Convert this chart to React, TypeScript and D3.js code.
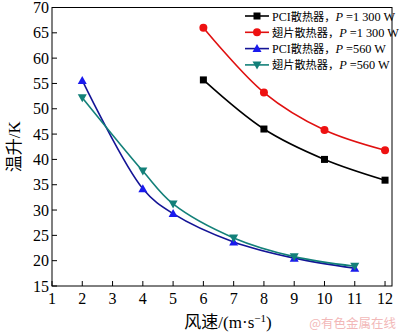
import React from "react";
import * as d3 from "d3";

const xTicks = [1, 2, 3, 4, 5, 6, 7, 8, 9, 10, 11, 12];
const yTicks = [15, 20, 25, 30, 35, 40, 45, 50, 55, 60, 65, 70];

const pciHighX = [6, 8, 10, 12];
const pciHighY = [55.7, 46.0, 40.0, 35.9];
const finHighX = [6, 8, 10, 12];
const finHighY = [66.0, 53.2, 45.8, 41.8];
const pciLowX = [2, 4, 5, 7, 9, 11];
const pciLowY = [55.6, 34.2, 29.3, 23.7, 20.5, 18.5];
const finLowX = [2, 4, 5, 7, 9, 11];
const finLowY = [52.2, 37.7, 31.2, 24.5, 20.8, 18.9];

const seriesPrefix = ["PCI", "", "PCI", ""];
const seriesNames = ["散热器，", "翅片散热器，", "散热器，", "翅片散热器，"];
const seriesPower = ["=1 300 W", "=1 300 W", "=560 W", "=560 W"];

const W = 400, H = 335;
const left = 52, right = 392, top = 7.5, bottom = 286;

export default function App() {
  const x = d3.scaleLinear().domain([1, 12.23]).range([left, right]);
  const y = d3.scaleLinear().domain([15, 70]).range([bottom, top]);
  const serif = "'Liberation Serif', 'Times New Roman', serif";
  const cjk = "'Liberation Serif', 'Noto Sans CJK SC', serif";

  const series = [
    { xs: pciHighX, ys: pciHighY, line: "#000000", fill: "#000000", marker: "square" },
    { xs: finHighX, ys: finHighY, line: "#e01010", fill: "#ee1111", marker: "circle" },
    { xs: pciLowX, ys: pciLowY, line: "#141496", fill: "#1a1aee", marker: "up" },
    { xs: finLowX, ys: finLowY, line: "#138079", fill: "#138079", marker: "down" },
  ];

  const lineGen = d3
    .line<[number, number]>()
    .x((d) => x(d[0]))
    .y((d) => y(d[1]))
    .curve(d3.curveCatmullRom.alpha(0.5));

  const marker = (type: string, cx: number, cy: number, color: string, key: string) => {
    if (type === "square") return <rect key={key} x={cx - 3.5} y={cy - 3.5} width={7} height={7} fill={color} />;
    if (type === "circle") return <circle key={key} cx={cx} cy={cy} r={4} fill={color} />;
    if (type === "up")
      return <path key={key} d={`M${cx},${cy - 4.5}L${cx + 4.5},${cy + 3.5}L${cx - 4.5},${cy + 3.5}Z`} fill={color} />;
    return <path key={key} d={`M${cx},${cy + 4.5}L${cx + 4.5},${cy - 3.5}L${cx - 4.5},${cy - 3.5}Z`} fill={color} />;
  };

  return (
    <svg width={W} height={H} style={{ position: "absolute", left: 0, top: 0, background: "#fff" }}>
      <rect x={0} y={0} width={W} height={H} fill="#fff" />
      {series.map((s, i) => (
        <g key={i}>
          <path
            d={lineGen(s.xs.map((v, j) => [v, s.ys[j]] as [number, number])) || ""}
            fill="none"
            stroke={s.line}
            strokeWidth={1.6}
          />
          {s.xs.map((v, j) => marker(s.marker, x(v), y(s.ys[j]), s.fill, `m${i}-${j}`))}
        </g>
      ))}
      <rect x={left} y={top} width={right - left} height={bottom - top} fill="none" stroke="#000" strokeWidth={1} />
      {xTicks.map((t) => (
        <g key={"x" + t}>
          <line x1={x(t)} x2={x(t)} y1={bottom} y2={bottom - 5} stroke="#000" />
          <text x={x(t)} y={bottom + 18} textAnchor="middle" fontFamily={serif} fontSize={16}>
            {t}
          </text>
        </g>
      ))}
      {yTicks.map((t) => (
        <g key={"y" + t}>
          <line x1={left} x2={left + 5} y1={y(t)} y2={y(t)} stroke="#000" />
          <text x={left - 3} y={y(t) + 5.5} textAnchor="end" fontFamily={serif} fontSize={16}>
            {t}
          </text>
        </g>
      ))}
      <text
        transform={`translate(20,${(top + bottom) / 2}) rotate(-90)`}
        textAnchor="middle"
        fontFamily={cjk}
        fontSize={17}
      >
        温升/K
      </text>
      <text x={228} y={328} textAnchor="middle" fontFamily={cjk} fontSize={17}>
        风速/(m·s
        <tspan dy={-6} fontSize={11}>−1</tspan>
        <tspan dy={6}>)</tspan>
      </text>
      <text x={396} y={328} textAnchor="end" fontFamily="'Noto Sans CJK SC', sans-serif" fontSize={12.5} fill="#f2b8b8">
        @有色金属在线
      </text>
      {series.map((s, i) => {
        const ly = 16 + i * 16.3;
        return (
          <g key={"l" + i}>
            <line x1={245} x2={269} y1={ly} y2={ly} stroke={s.line} strokeWidth={1.6} />
            {marker(s.marker, 257, ly, s.fill, "lm" + i)}
            <text x={272} y={ly + 4.5} fontFamily={cjk} fontSize={12}>
              {seriesPrefix[i]}
              <tspan fontSize={11.2}>{seriesNames[i]}</tspan>
              <tspan fontStyle="italic" fontSize={12.3}>P</tspan>
              <tspan fontSize={12.3}> {seriesPower[i]}</tspan>
            </text>
          </g>
        );
      })}
    </svg>
  );
}
